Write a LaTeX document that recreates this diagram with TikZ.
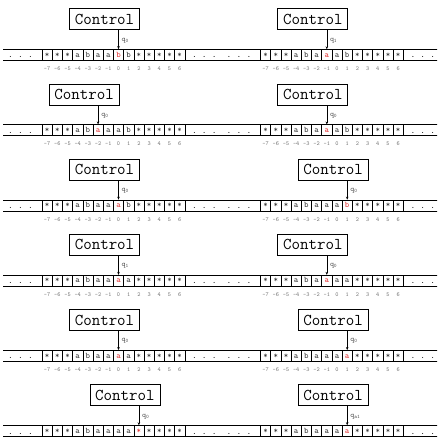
\documentclass[tikz,border=0pt]{standalone}
\usepackage{xcolor}
\usetikzlibrary{positioning, arrows.meta, calc}
\definecolor{headred}{RGB}{225,50,50}

\newcommand{\tmstep}[6]{%
    \coordinate (#1tl) at (#2+3,#3);
    \coordinate (#1tr) at (#2+222,#3);
    \coordinate (#1bl) at (#2+3,#3+11);
    \coordinate (#1br) at (#2+222,#3+11);
    \draw[tapeline] (#1tl) -- (#1tr);
    \draw[tapeline] (#1bl) -- (#1br);
    \foreach \s [count=\i from -7] in {#6}{%
        \ifnum\i=#4 \def\cellcol{headred}\else\def\cellcol{black!80}\fi
        \node[cell, text=\cellcol] (#1c\i) at ({#2+42+(\i+7.5)*10.2}, #3+5.5) {\s};
        \node[idx, below=6pt of #1c\i] (#1n\i) {\i};
    }
    \node[dots, left=9pt of #1c-7] (#1dl) {. . .};
    \node[dots, right=7pt of #1c6] (#1dr) {. . .};
    \node[ctrl, above=19pt of #1c#4.north, xshift=-14pt] (#1ctrl) {Control};
    \draw[head] (#1ctrl.south -| #1c#4.north) -- (#1c#4.north);
    \node[statelbl] (#1q) at ([xshift=3pt, yshift=9pt]#1c#4.north) {q\textsubscript{#5}};
}

\begin{document}
\begin{tikzpicture}[
        x=1pt, y=-1pt,
        ctrl/.style={
            draw,
            line width=0.8pt,
            minimum width=70pt,
            minimum height=21pt,
            inner sep=0pt,
            font=\ttfamily\fontsize{16.5}{18}\selectfont
        },
        cell/.style={
            draw,
            line width=0.5pt,
            minimum width=10.2pt,
            minimum height=11pt,
            inner sep=0pt,
            text height=4.5pt,
            text depth=0pt,
            font=\ttfamily\fontsize{8.5}{9}\selectfont
        },
        idx/.style={inner sep=0pt, text=black!55, font=\ttfamily\fontsize{6}{6}\selectfont},
        dots/.style={inner sep=0pt, text height=6pt, text depth=0pt, font=\ttfamily\fontsize{8}{8}\selectfont},
        statelbl/.style={anchor=west, inner sep=0pt, text=black!70, font=\ttfamily\fontsize{7.5}{8}\selectfont},
        tapeline/.style={line width=0.8pt},
        head/.style={-{Stealth[length=3pt, width=2.5pt]}, line width=0.6pt}
    ]

    \useasboundingbox (0,0) rectangle (437,438);
    \clip (0,0) rectangle (437,438);

    \tmstep{s1}{0}{49.5}{0}{0}{*,*,*,a,b,a,a,b,b,*,*,*,*,*}
    \tmstep{s2}{218.5}{49.5}{-1}{1}{*,*,*,a,b,a,a,a,b,*,*,*,*,*}
    \tmstep{s3}{0}{124.7}{-2}{0}{*,*,*,a,b,a,a,a,b,*,*,*,*,*}
    \tmstep{s4}{218.5}{124.7}{-1}{0}{*,*,*,a,b,a,a,a,b,*,*,*,*,*}
    \tmstep{s5}{0}{199.9}{0}{0}{*,*,*,a,b,a,a,a,b,*,*,*,*,*}
    \tmstep{s6}{218.5}{199.9}{1}{0}{*,*,*,a,b,a,a,a,b,*,*,*,*,*}
    \tmstep{s7}{0}{275.1}{0}{1}{*,*,*,a,b,a,a,a,a,*,*,*,*,*}
    \tmstep{s8}{218.5}{275.1}{-1}{0}{*,*,*,a,b,a,a,a,a,*,*,*,*,*}
    \tmstep{s9}{0}{350.3}{0}{0}{*,*,*,a,b,a,a,a,a,*,*,*,*,*}
    \tmstep{s10}{218.5}{350.3}{1}{0}{*,*,*,a,b,a,a,a,a,*,*,*,*,*}
    \tmstep{s11}{0}{425.5}{2}{0}{*,*,*,a,b,a,a,a,a,*,*,*,*,*}
    \tmstep{s12}{218.5}{425.5}{1}{a1}{*,*,*,a,b,a,a,a,a,*,*,*,*,*}

\end{tikzpicture}
\end{document}
